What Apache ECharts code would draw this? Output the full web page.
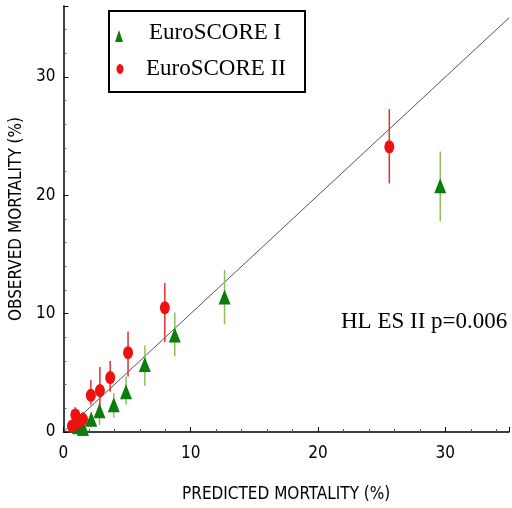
<!DOCTYPE html>
<html><head><meta charset="utf-8">
<script src="https://cdn.jsdelivr.net/npm/echarts@6/dist/echarts.min.js"></script>
<style>html,body{margin:0;padding:0;background:#fff}#c{width:512px;height:508px}</style>
</head><body><div id="c"></div>
<script>
// EuroSCORE I: predicted, observed, lower CI, upper CI
const es1Pred = [1.15, 1.46, 1.54, 2.19, 2.84, 3.96, 4.92, 6.4, 8.75, 12.66, 29.6];
const es1Obs  = [0.45, 0.6, 0.3, 1.07, 1.8, 2.3, 3.4, 5.7, 8.2, 11.4, 20.8];
const es1Lo   = [0.1, 0.2, 0.0, 0.4, 0.6, 1.2, 2.3, 3.9, 6.4, 9.1, 17.8];
const es1Hi   = [0.9, 1.1, 0.8, 1.7, 2.5, 3.3, 4.7, 7.3, 10.1, 13.7, 23.7];
// EuroSCORE II
const es2Pred = [0.68, 0.94, 1.15, 1.54, 2.16, 2.87, 3.68, 5.08, 7.97, 25.6];
const es2Obs  = [0.5, 1.44, 0.77, 1.07, 3.1, 3.5, 4.6, 6.7, 10.5, 24.1];
const es2Lo   = [0.1, 0.8, 0.3, 0.5, 2.3, 2.1, 3.4, 4.7, 7.6, 21.0];
const es2Hi   = [1.0, 2.1, 1.3, 1.7, 4.4, 5.5, 6.0, 8.5, 12.6, 27.3];
const refLine = [[0, 0], [35, 35]];
const tickLabels = [0, 10, 20, 30];

const chart = echarts.init(document.getElementById('c'));
const narrow = "'DejaVu Sans Condensed','Liberation Sans Narrow','Liberation Sans',sans-serif";
const serif = "'Liberation Serif','Times New Roman',serif";

function errSeries(pred, lo, hi, color) {
  return {
    type: 'custom', silent: true, z: 2,
    data: pred.map((p, i) => [p, lo[i], hi[i]]),
    renderItem: function (params, api) {
      const a = api.coord([api.value(0), api.value(1)]);
      const b = api.coord([api.value(0), api.value(2)]);
      return { type: 'line', shape: { x1: a[0], y1: a[1], x2: b[0], y2: b[1] },
        style: { stroke: color, lineWidth: 1.5 } };
    }
  };
}

chart.setOption({
  animation: false,
  grid: { left: 62, right: 0, top: 6, bottom: 76 },
  xAxis: {
    type: 'value', min: 0, max: 35, interval: 10,
    name: 'PREDICTED MORTALITY (%)', nameLocation: 'middle', nameGap: 54,
    nameTextStyle: { fontFamily: narrow, fontSize: 17, color: '#000' },
    axisLine: { lineStyle: { color: '#000', width: 1.5 } },
    axisTick: { inside: true, length: 5, lineStyle: { color: '#000' } },
    minorTick: { show: true, splitNumber: 5, length: 3, lineStyle: { color: '#555' } },
    axisLabel: { fontFamily: narrow, fontSize: 17, color: '#000', margin: 13,
      formatter: v => tickLabels.includes(v) ? String(v) : '' },
    splitLine: { show: false }
  },
  yAxis: {
    type: 'value', min: 0, max: 36, interval: 10,
    name: 'OBSERVED MORTALITY (%)', nameLocation: 'middle', nameGap: 34,
    nameTextStyle: { fontFamily: narrow, fontSize: 17, color: '#000' },
    axisLine: { show: true, lineStyle: { color: '#000', width: 1.5 } },
    axisTick: { show: true, inside: true, length: 5, lineStyle: { color: '#000' } },
    minorTick: { show: true, splitNumber: 5, length: 3, lineStyle: { color: '#555' } },
    axisLabel: { fontFamily: narrow, fontSize: 17, color: '#000', margin: 8,
      formatter: v => tickLabels.includes(v) ? String(v) : '' },
    splitLine: { show: false }
  },
  legend: { show: false },
  series: [
    { type: 'line', data: refLine, symbol: 'none', silent: true, z: 1,
      lineStyle: { color: '#555', width: 1 } },
    errSeries(es1Pred, es1Lo, es1Hi, '#8fbf5a'),
    errSeries(es2Pred, es2Lo, es2Hi, '#e03030'),
    { name: 'EuroSCORE I', type: 'scatter', z: 3, symbol: 'triangle', symbolSize: [12, 15],
      itemStyle: { color: '#0a7d0a', opacity: 1 },
      data: es1Pred.map((p, i) => [p, es1Obs[i]]) },
    { name: 'EuroSCORE II', type: 'scatter', z: 3, symbol: 'circle', symbolSize: [10, 13],
      itemStyle: { color: '#ee1111', opacity: 1 },
      data: es2Pred.map((p, i) => [p, es2Obs[i]]) }
  ],
  graphic: [
    { type: 'rect', left: 108, top: 10, shape: { width: 196, height: 81 },
      style: { fill: '#fff', stroke: '#000', lineWidth: 2 }, z: 10 },
    { type: 'polygon', shape: { points: [[119, 30], [115, 42], [123, 42]] },
      style: { fill: '#0a7d0a' }, z: 11 },
    { type: 'text', left: 149, top: 21, style: { text: 'EuroSCORE I', fontFamily: serif,
      fontSize: 23, fill: '#000' }, z: 11 },
    { type: 'ellipse', shape: { cx: 120, cy: 69, rx: 3.5, ry: 5 },
      style: { fill: '#ee1111' }, z: 11 },
    { type: 'text', left: 146, top: 57, style: { text: 'EuroSCORE II', fontFamily: serif,
      fontSize: 23, fill: '#000' }, z: 11 },
    { type: 'text', left: 341, top: 310, style: { text: 'HL ES II p=0.006', fontFamily: serif,
      fontSize: 23, fill: '#000' }, z: 11 }
  ]
});
</script></body></html>
